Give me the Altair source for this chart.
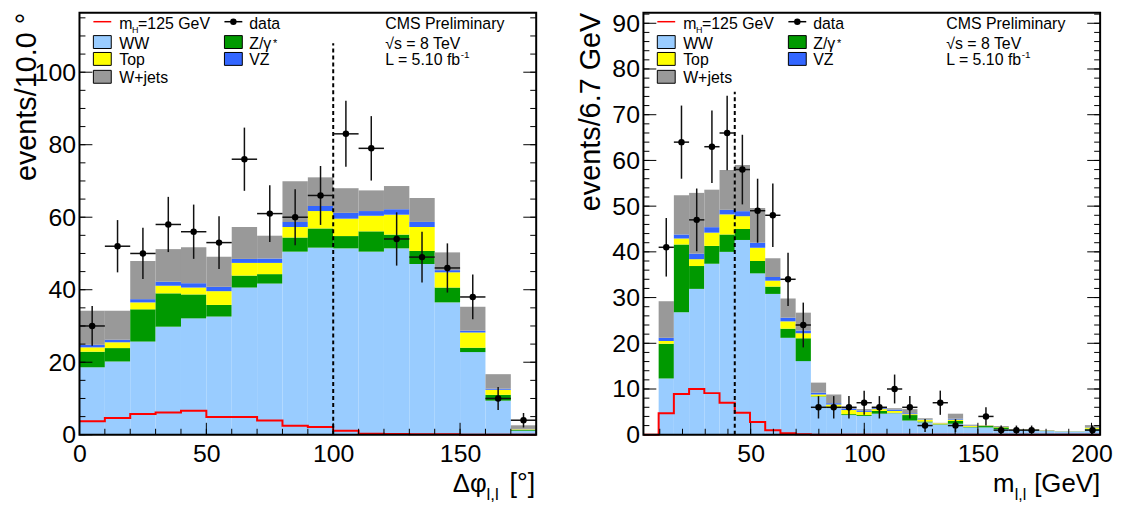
import altair as alt
import numpy as np
import pandas as pd

FONT = "Liberation Sans"
W, H = 460, 425

COMPONENTS = ["WW", "Z/γ*", "Top", "VZ", "W+jets"]          # stacking order, bottom -> top
COLORS = ["#99ccff", "#009900", "#ffff00", "#3366ff", "#999999"]

# ---------------- Δφ(l,l) panel (bins of 10°) ----------------
dphi_edges = [0, 10, 20, 30, 40, 50, 60, 70, 80, 90, 100, 110, 120, 130, 140, 150, 160, 170, 180]
dphi_ww = [18.6, 20.2, 25.7, 29.8, 32.1, 32.6, 40.6, 41.7, 50.5, 51.6, 51.4, 50.5, 51.4, 47.1, 36.5, 22.8, 9.4, 1.1]
dphi_z = [4.3, 3.7, 8.9, 9.2, 6.6, 3.2, 3.3, 2.6, 3.9, 5.3, 3.4, 5.6, 3.8, 3.6, 4.1, 1.2, 1.6, 0.2]
dphi_top = [1.2, 1.6, 1.9, 2.1, 1.9, 3.8, 3.5, 3.1, 2.9, 4.8, 4.8, 4.3, 5.5, 6.6, 4.2, 4.2, 1.4, 0.2]
dphi_vz = [0.7, 0.7, 0.9, 1.1, 1.2, 1.2, 1.1, 1.2, 1.4, 1.4, 1.6, 1.3, 1.5, 1.4, 0.6, 0.5, 0.3, 0.1]
dphi_wjets = [9.4, 8.0, 10.5, 9.0, 9.9, 8.3, 8.8, 6.3, 11.2, 7.9, 6.8, 5.7, 6.4, 6.6, 4.9, 6.6, 4.0, 1.0]
dphi_data = [30, 52, 50, 58, 56, 53, 76, 61, 60, 66, 83, 79, 54, 49, 46, 38, 10, 4]
dphi_higgs = [3.7, 4.6, 5.7, 6.1, 6.6, 4.9, 4.9, 3.9, 2.5, 2.1, 1.1, 0.3, 0.2, 0.1, 0.1, 0.0, 0.0, 0.0]
dphi_cut, dphi_cut_top = 100, 108
dphi_xdomain, dphi_ydomain = [0, 180], [0, 116.4]
dphi_xlabels = [0, 50, 100, 150]
dphi_ylabels = [0, 20, 40, 60, 80, 100]

# ---------------- m(l,l) panel (bins of 6.7 GeV) ----------------
mll_edges = [2.8, 9.5, 16.2, 22.9, 29.6, 36.3, 43.0, 49.7, 56.4, 63.1, 69.8, 76.5, 83.2, 89.9, 96.6,
             103.3, 110.0, 116.7, 123.4, 130.1, 136.8, 143.5, 150.2, 156.9, 163.6, 170.3, 177.0,
             183.7, 190.4, 197.1, 203.8]
mll_ww = [0, 12.3, 26.8, 31.9, 37.4, 40.0, 42.6, 35.3, 30.8, 21.2, 16.1, 8.3, 6.0, 4.3, 4.1,
          4.6, 4.7, 3.1, 2.7, 2.2, 2.4, 1.6, 1.6, 1.2, 1.0, 1.0, 0.8, 0.7, 0.7, 1.1]
mll_z = [0, 7.6, 14.8, 5.0, 3.9, 3.8, 2.4, 2.7, 1.6, 2.0, 5.0, 0.1, 0.1, 0.2, 0.2,
         0.6, 0.1, 1.2, 0.2, 0.1, 0.6, 0.1, 0.3, 0.4, 0.05, 0.05, 0.05, 0.02, 0.02, 0.2]
mll_top = [0, 0.6, 1.3, 1.5, 2.9, 4.4, 2.8, 2.9, 1.3, 1.6, 1.1, 0.4, 0.5, 0.9, 0.7,
           0.4, 0.4, 0.2, 0.4, 0.2, 0.3, 0.2, 0.1, 0.1, 0.05, 0.05, 0.05, 0.03, 0.03, 0.3]
mll_vz = [0, 0.7, 0.9, 1.2, 1.2, 1.0, 1.1, 1.1, 0.8, 0.8, 0.6, 0.4, 0.3, 0.3, 0.3,
          0.2, 0.3, 0.2, 0.1, 0.0, 0.2, 0.1, 0.0, 0.0, 0.0, 0.0, 0.0, 0.0, 0.0, 0.1]
mll_wjets = [0, 8.0, 8.6, 13.3, 8.2, 8.7, 10.1, 7.6, 4.1, 4.2, 3.9, 2.2, 1.9, 0.3, 0.3,
             0.2, 0.3, 0.9, 0.2, 0.1, 1.1, 0.2, 0.1, 0.2, 0.1, 0.1, 0.1, 0.05, 0.05, 0.4]
mll_data = [0, 41, 64, 47, 63, 66, 58, 49, 48, 34, 24, 6, 6, 6, 7,
            6, 10, 6, 2, 7, 2, 0, 4, 1, 1, 1, 0, 0, 0, 1]
mll_higgs = [0, 4.7, 8.9, 10.0, 9.1, 7.0, 4.8, 2.8, 1.0, 0.3, 0.1, 0, 0, 0, 0,
             0, 0, 0, 0, 0, 0, 0, 0, 0, 0, 0, 0, 0, 0, 0]
mll_cut, mll_cut_top = 43, 75
mll_xdomain, mll_ydomain = [2.8, 203.8], [0, 92.3]
mll_xlabels = [50, 100, 150, 200]
mll_ylabels = [0, 10, 20, 30, 40, 50, 60, 70, 80, 90]

ONE = pd.DataFrame({"k": [0]})


def txt(s, x, y, size=16, align="left", angle=0, color="black"):
    return alt.Chart(ONE).mark_text(
        text=s, font=FONT, fontSize=size, align=align, baseline="alphabetic",
        angle=angle, color=color
    ).encode(x=alt.value(x), y=alt.value(y))


def panel(edges, comps, data, higgs, cut, cut_top, xdom, ydom, xlabels, ylabels,
          xminor, yminor, ymajor, ytitle, xtitle_parts, cms_x):
    xs = alt.Scale(domain=xdom, nice=False, zero=False)
    ys = alt.Scale(domain=ydom, nice=False, zero=False)

    # stacked histogram table
    rows = []
    for i in range(len(edges) - 1):
        cum = 0.0
        for k, name in enumerate(COMPONENTS):
            v = comps[k][i]
            rows.append({"lo": edges[i], "hi": edges[i + 1], "y0": cum, "y1": cum + v, "comp": name})
            cum += v
    stack_df = pd.DataFrame(rows)

    bars = alt.Chart(stack_df).mark_rect(strokeWidth=0).encode(
        x=alt.X("lo:Q", scale=xs, title=None, axis=alt.Axis(values=xlabels)),
        x2="hi:Q",
        y=alt.Y("y0:Q", scale=ys, title=None, axis=alt.Axis(values=ylabels)),
        y2="y1:Q",
        color=alt.Color("comp:N", scale=alt.Scale(domain=COMPONENTS, range=COLORS), legend=None),
    )

    # signal step line
    hig_df = pd.DataFrame({"x": edges, "y": list(higgs) + [higgs[-1]]})
    hig = alt.Chart(hig_df).mark_line(interpolate="step-after", color="#ff0000", strokeWidth=2).encode(
        x=alt.X("x:Q", scale=xs, title=None), y=alt.Y("y:Q", scale=ys, title=None)
    )

    # cut line
    cut_df = pd.DataFrame({"x": [cut], "y0": [0], "y1": [cut_top]})
    cutl = alt.Chart(cut_df).mark_rule(color="black", strokeWidth=2, strokeDash=[4, 3]).encode(
        x=alt.X("x:Q", scale=xs, title=None), y=alt.Y("y0:Q", scale=ys, title=None), y2="y1:Q"
    )

    # data points with Poisson errors
    d = pd.DataFrame({"lo": edges[:-1], "hi": edges[1:], "n": data})
    d = d[d["n"] > 0].copy()
    d["c"] = (d["lo"] + d["hi"]) / 2
    d["elo"] = d["n"] - np.sqrt(d["n"])
    d["ehi"] = d["n"] + np.sqrt(d["n"])
    verr = alt.Chart(d).mark_rule(color="#111111", strokeWidth=1.5).encode(
        x=alt.X("c:Q", scale=xs, title=None), y=alt.Y("elo:Q", scale=ys, title=None), y2="ehi:Q"
    )
    herr = alt.Chart(d).mark_rule(color="#111111", strokeWidth=1.5).encode(
        x=alt.X("lo:Q", scale=xs, title=None), x2="hi:Q", y=alt.Y("n:Q", scale=ys, title=None)
    )
    pts = alt.Chart(d).mark_circle(color="black", opacity=1, size=42).encode(
        x=alt.X("c:Q", scale=xs, title=None), y=alt.Y("n:Q", scale=ys, title=None)
    )

    # inward ticks (ROOT style)
    def yt(vals, length, side):
        df = pd.DataFrame({"v": vals})
        if side == "left":
            xx, xx2 = 0, length
        else:
            xx, xx2 = W, W - length
        return alt.Chart(df).mark_rule(color="black", strokeWidth=1).encode(
            y=alt.Y("v:Q", scale=ys, title=None), x=alt.value(xx), x2=alt.value(xx2)
        )

    def xt(vals, length):
        df = pd.DataFrame({"v": vals})
        return alt.Chart(df).mark_rule(color="black", strokeWidth=1).encode(
            x=alt.X("v:Q", scale=xs, title=None), y=alt.value(H), y2=alt.value(H - length)
        )

    ticks = [yt(yminor, 6, "left"), yt(ymajor, 13, "left"), yt(yminor, 6, "right"),
             yt(ymajor, 13, "right"), xt(xminor, 6), xt(xlabels, 12)]

    frame = alt.Chart(ONE).mark_rect(fillOpacity=0, stroke="black", strokeWidth=2).encode(
        x=alt.value(0), x2=alt.value(W), y=alt.value(0), y2=alt.value(H)
    )

    # legend (drawn inside the frame)
    leg = []
    r = [9, 29.5, 47, 65]          # row centres
    b = [16, 36, 53, 71]           # row baselines
    leg.append(alt.Chart(ONE).mark_rule(color="#ff0000", strokeWidth=1.5).encode(
        x=alt.value(14), x2=alt.value(32), y=alt.value(r[0])))
    leg.append(txt("m", 40, b[0], 16))
    leg.append(txt("H", 53, b[0] + 4, 9))
    leg.append(txt("=125 GeV", 59, b[0], 16))
    leg.append(alt.Chart(ONE).mark_rule(color="black", strokeWidth=1.5).encode(
        x=alt.value(146), x2=alt.value(164), y=alt.value(r[0])))
    leg.append(alt.Chart(ONE).mark_circle(color="black", opacity=1, size=42).encode(
        x=alt.value(155), y=alt.value(r[0])))
    leg.append(txt("data", 171, b[0], 16))
    boxes = [(14, 1, "WW", 0), (146, 1, "Z/γ", 1), (14, 2, "Top", 2), (146, 2, "VZ", 3), (14, 3, "W+jets", 4)]
    for bx, row, lab, ci in boxes:
        leg.append(alt.Chart(ONE).mark_rect(fill=COLORS[ci], stroke="black", strokeWidth=1).encode(
            x=alt.value(bx), x2=alt.value(bx + 18), y=alt.value(b[row] - 13), y2=alt.value(b[row])))
        leg.append(txt(lab, bx + 26 if bx == 14 else 171, b[row], 16))
    leg.append(txt("*", 195, b[1] - 2, 11))

    # experiment labels
    info = [
        txt("CMS Preliminary", cms_x, b[0], 16),
        txt("√s = 8 TeV", cms_x, b[1], 16),
        txt("L = 5.10 fb", cms_x, b[2], 16),
        txt("-1", cms_x + 76, b[2] - 7, 10),
    ]

    # axis titles
    titles = [txt(ytitle, -44, 0, 29, align="right", angle=270)]
    for s, x, dy, size, al in xtitle_parts:
        titles.append(txt(s, x, H + dy, size, align=al))

    layers = [bars, hig, cutl, herr, verr, pts] + ticks + [frame] + leg + info + titles
    return alt.layer(*layers).properties(width=W, height=H)


left = panel(
    dphi_edges, [dphi_ww, dphi_z, dphi_top, dphi_vz, dphi_wjets], dphi_data, dphi_higgs,
    dphi_cut, dphi_cut_top, dphi_xdomain, dphi_ydomain, dphi_xlabels, dphi_ylabels,
    list(range(0, 181, 10)), list(range(0, 116, 5)), dphi_ylabels,
    "events/10.0 °",
    [("Δφ", 376, 58, 26, "left"), ("l,l", 410, 66, 17, "left"), ("[°]", 459, 58, 27, "right")],
    308,
)

right = panel(
    mll_edges, [mll_ww, mll_z, mll_top, mll_vz, mll_wjets], mll_data, mll_higgs,
    mll_cut, mll_cut_top, mll_xdomain, mll_ydomain, mll_xlabels, mll_ylabels,
    list(range(10, 201, 10)), list(range(0, 93, 2)), mll_ylabels,
    "events/6.7 GeV",
    [("m", 352, 58, 26, "left"), ("l,l", 374, 66, 16, "left"), ("[GeV]", 460, 58, 26, "right")],
    305,
)

chart = alt.hconcat(left, right, spacing=108, bounds="flush").properties(
    padding={"left": 5, "top": 1, "right": 5, "bottom": 2}
).configure_view(stroke=None).configure_axis(
    labelFont=FONT, labelFontSize=25, labelColor="black", ticks=False, tickSize=0,
    domain=False, grid=False, labelFlush=False, labelOverlap=False
).configure_axisX(labelPadding=7).configure_axisY(labelPadding=4)

chart.save("out.html", embed_options={"renderer": "svg", "actions": False})
